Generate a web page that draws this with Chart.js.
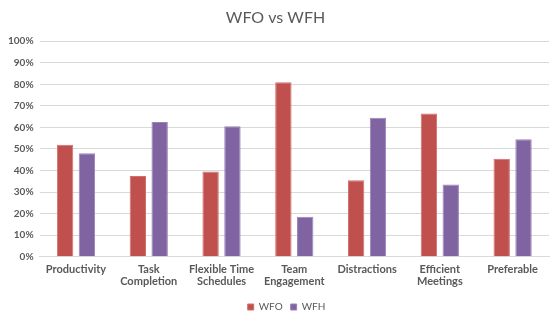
<!DOCTYPE html>
<html>
<head>
<meta charset="utf-8">
<script src="https://cdn.jsdelivr.net/npm/chart.js@4/dist/chart.umd.min.js"></script>
<style>
  html, body { margin: 0; padding: 0; background: #fff; }
  #wrap { width: 559px; height: 324px; position: relative; }
</style>
</head>
<body>
<div id="wrap"><canvas id="chart1"></canvas></div>
<script>
// categories and values (percent)
let categories = [
    'Productivity',
    ['Task', 'Completion'],
    ['Flexible Time', 'Schedules'],
    ['Team', 'Engagement'],
    'Distractions',
    ['Efficient', 'Meetings'],
    'Preferable'
];
let wfo = [52, 37.5, 39.5, 81, 35.5, 66.5, 45.5];
let wfh = [48, 62.5, 60.5, 18.5, 64.5, 33.5, 54.5];
let yTicks = [0, 10, 20, 30, 40, 50, 60, 70, 80, 90, 100];

let textColor = '#595959';
let fontName = 'Lato';

// legend sits a bit right of centre in the original
let legendShift = {
    id: 'legendShift',
    afterLayout: function(chart) {
        chart.legend.left += 11;
        chart.legend.right += 11;
    }
};

var ctx = document.getElementById('chart1').getContext('2d');
var chart = new Chart(ctx, {
    type: 'bar',
    data: {
        labels: categories,
        datasets: [{
            label: 'WFO',
            data: wfo,
            backgroundColor: '#C0504D',
            borderColor: '#D36E6B',
            borderWidth: 1,
            categoryPercentage: 0.6,
            barPercentage: 0.75
        }, {
            label: 'WFH',
            data: wfh,
            backgroundColor: '#8064A2',
            borderColor: '#9B82BA',
            borderWidth: 1,
            categoryPercentage: 0.6,
            barPercentage: 0.75
        }]
    },
    options: {
        responsive: true,
        maintainAspectRatio: false,
        animation: false,
        layout: {
            padding: { left: 2, right: 10, top: 8, bottom: 2 }
        },
        plugins: {
            title: {
                display: true,
                text: 'WFO vs WFH',
                color: textColor,
                font: { family: fontName, size: 16, weight: 'normal' },
                padding: { top: 0, bottom: 14 }
            },
            legend: {
                position: 'bottom',
                labels: {
                    color: textColor,
                    boxWidth: 6,
                    boxHeight: 6,
                    padding: 8,
                    font: { family: fontName, size: 10 }
                }
            },
            tooltip: { enabled: false }
        },
        scales: {
            x: {
                grid: { display: false, drawTicks: false },
                border: { color: '#D9D9D9' },
                ticks: {
                    color: textColor,
                    maxRotation: 0,
                    autoSkip: false,
                    padding: 6,
                    font: { family: fontName, size: 11, weight: 'bold', lineHeight: 1.15 }
                }
            },
            y: {
                min: 0,
                max: 100,
                afterBuildTicks: function(axis) {
                    axis.ticks = yTicks.map(function(v) { return { value: v }; });
                },
                grid: { color: '#D9D9D9', drawTicks: false },
                border: { display: false },
                ticks: {
                    color: textColor,
                    padding: 6,
                    font: { family: fontName, size: 10, weight: 'bold' },
                    callback: function(v) { return v + '%'; }
                }
            }
        }
    },
    plugins: [legendShift]
});
</script>
</body>
</html>
